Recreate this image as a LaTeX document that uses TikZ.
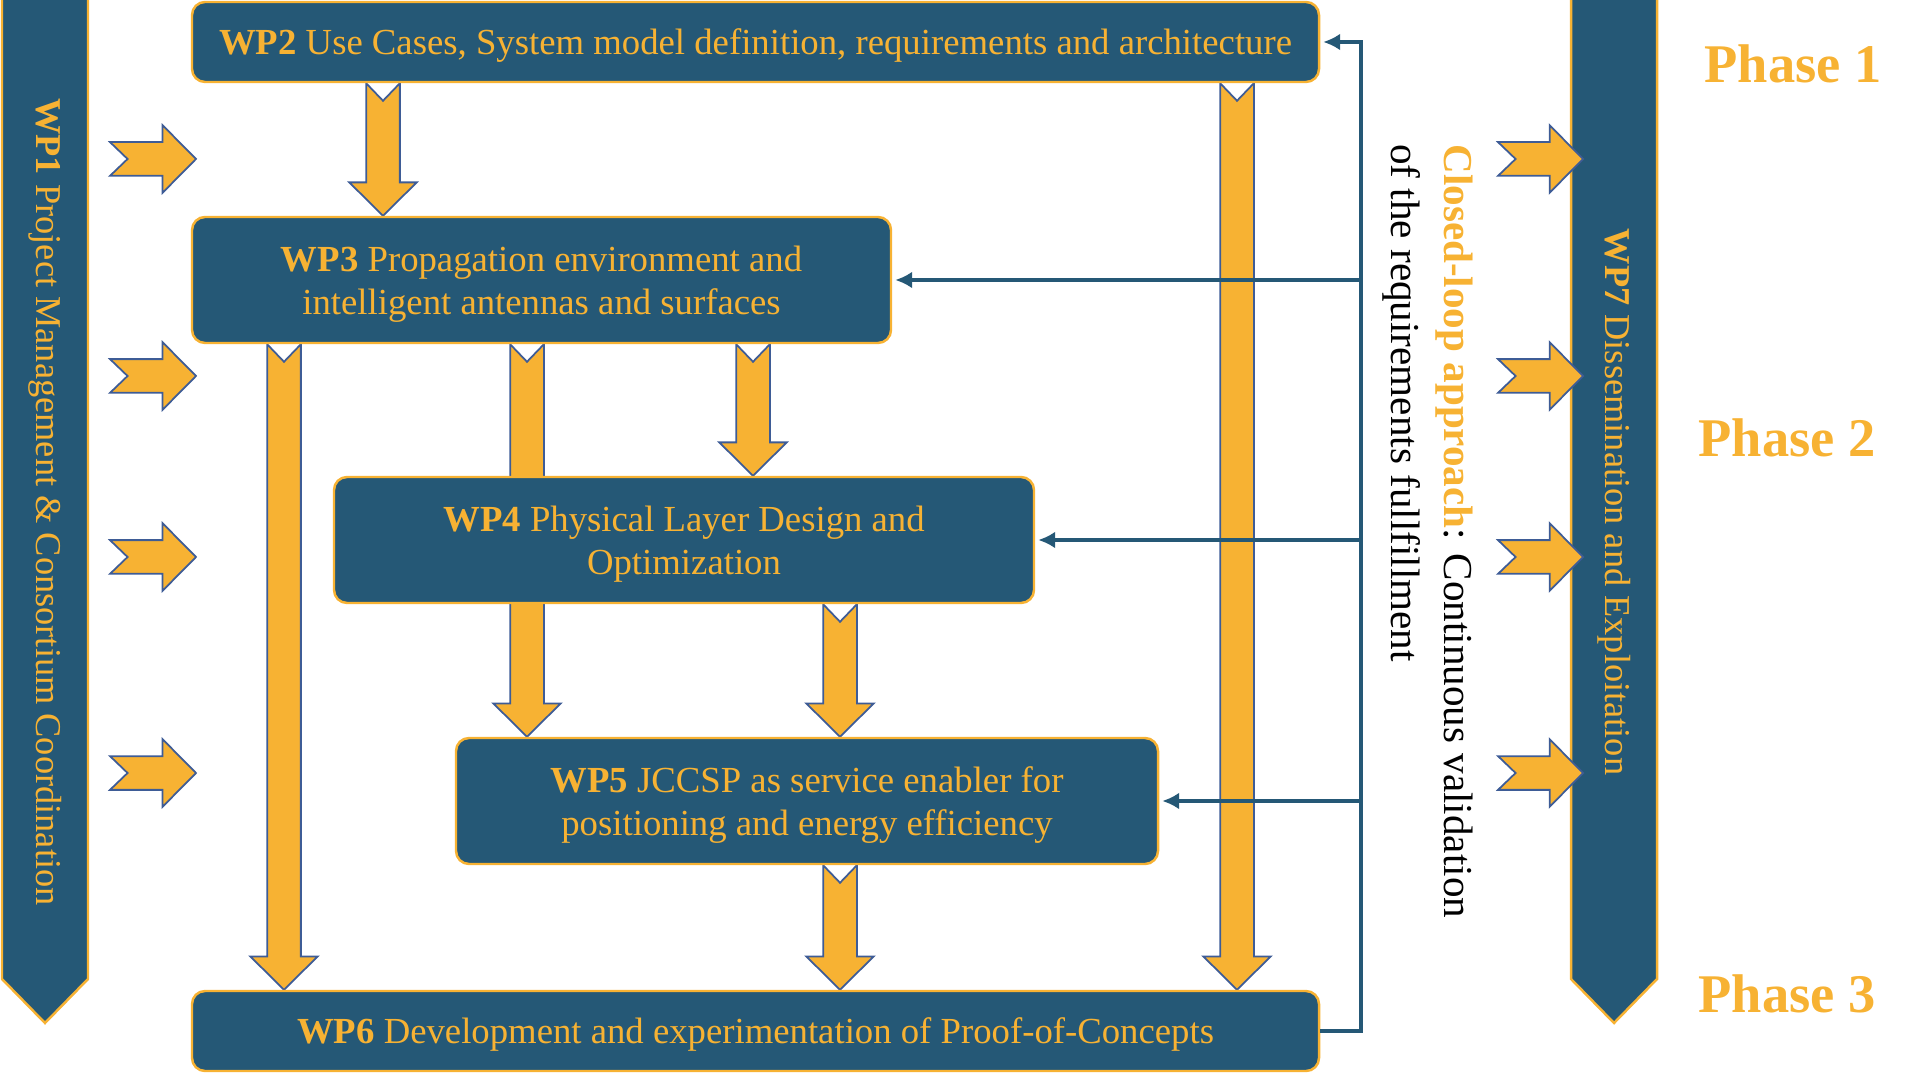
\documentclass[tikz,border=0pt]{standalone}
\usepackage{fontspec}
\setmainfont{Liberation Serif}
\usetikzlibrary{%
	arrows.meta,
	positioning,% wg. " of "
	backgrounds,
	calc
}
\definecolor{wpblue}{RGB}{37,88,118}
\definecolor{wpgold}{RGB}{247,178,51}
\definecolor{wpedge}{RGB}{62,92,150}
\tikzstyle{wpbox} = [rectangle, rounded corners=1.3mm, draw=wpgold, line width=0.7pt, fill=wpblue, text=wpgold, align=center, inner sep=0pt, text depth=0pt, font=\fontsize{10.45}{12.2}\selectfont]
\tikzstyle{wpbar} = [draw=wpgold, line width=0.7pt, fill=wpblue]
\tikzstyle{bartext} = [rotate=-90, text=wpgold, font=\fontsize{10.35}{12}\selectfont]
\tikzstyle{bigarrow} = [draw=wpedge, line width=0.5pt, fill=wpgold, line join=miter]
\tikzstyle{loopline} = [draw=wpblue, line width=1.1pt]
\tikzstyle{looparrow} = [loopline, -{Latex[length=4.8pt,width=4.8pt]}, shorten >=0.3mm]
\tikzstyle{phase} = [text=wpgold, font=\fontsize{15.5}{18}\selectfont\bfseries]
% fat arrow pointing down, notched tail
\newcommand{\fatdown}[2]{%
	\path[bigarrow] let \p1=(#1), \p2=(#2) in
	(\x1-4.8pt,\y1) -- (\x1,\y1-5pt) -- (\x1+4.8pt,\y1) -- (\x1+4.8pt,\y2+9.5pt)
	-- (\x1+9.6pt,\y2+9.5pt) -- (\x1,\y2) -- (\x1-9.6pt,\y2+9.5pt) -- (\x1-4.8pt,\y2+9.5pt) -- cycle;}
% fat arrow pointing right, notched tail
\newcommand{\fatright}[2]{%
	\path[bigarrow] let \p1=(#1), \p2=(#2) in
	(\x1,\y1+4.8pt) -- (\x2-9.5pt,\y1+4.8pt) -- (\x2-9.5pt,\y1+9.6pt) -- (\x2,\y1)
	-- (\x2-9.5pt,\y1-9.6pt) -- (\x2-9.5pt,\y1-4.8pt) -- (\x1,\y1-4.8pt) -- (\x1+5pt,\y1) -- cycle;}

\begin{document}
\begin{tikzpicture}[x=0.1mm,y=-0.1mm]
	\useasboundingbox (0,0) rectangle (1919,1074);
	
	% side bars
	\path[wpbar] (2,-5) -- (88,-5) -- (88,979) -- (45,1023) -- (2,979) -- cycle;
	\path[wpbar] (1571,-5) -- (1657,-5) -- (1657,979) -- (1614,1023) -- (1571,979) -- cycle;
	\node[bartext] (wp1) at (45,502) {\textbf{WP1} Project Management \& Consortium Coordination};
	\node[bartext] (wp7) at (1614,502) {\textbf{WP7} Dissemination and Exploitation};
	
	% work packages
	\node[wpbox, minimum width=112.7mm, minimum height=8mm] (wp2) at (755.5,42) {\textbf{WP2} Use Cases, System model definition, requirements and architecture};
	\node[wpbox, minimum width=69.9mm, minimum height=12.6mm] (wp3) at (541.5,280) {\textbf{WP3} Propagation environment and\\intelligent antennas and surfaces};
	\node[wpbox, minimum width=70mm, minimum height=12.6mm] (wp4) at (684,540) {\textbf{WP4} Physical Layer Design and\\Optimization};
	\node[wpbox, minimum width=70.2mm, minimum height=12.6mm] (wp5) at (807,801) {\textbf{WP5} JCCSP as service enabler for\\positioning and energy efficiency};
	\node[wpbox, minimum width=112.7mm, minimum height=8mm] (wp6) at (755.5,1031) {\textbf{WP6} Development and experimentation of Proof-of-Concepts};
	
	% columns of the fat arrows
	\foreach \name/\xpos in {c1/284, c2/383, c3/527, c4/753, c5/840, c6/1237}
	\coordinate (\name) at (\xpos,0);
	
	\begin{pgfonlayer}{background}
		\fatdown{wp2.south -| c2}{wp3.north -| c2}
		\fatdown{wp2.south -| c6}{wp6.north -| c6}
		\fatdown{wp3.south -| c1}{wp6.north -| c1}
		\fatdown{wp3.south -| c3}{wp5.north -| c3}
		\fatdown{wp3.south -| c4}{wp4.north -| c4}
		\fatdown{wp4.south -| c5}{wp5.north -| c5}
		\fatdown{wp5.south -| c5}{wp6.north -| c5}
	\end{pgfonlayer}
	
	% arrows from WP1 and into WP7
	\foreach \ypos in {159,376,557,773}{
		\fatright{110,\ypos}{196,\ypos}
		\fatright{1498,\ypos}{1583,\ypos}
	}
	
	% closed loop
	\coordinate (loop) at (1361,0);
	\draw[looparrow] (wp6.east) -- (loop |- wp6.east) -- (loop |- wp2.east) -- (wp2.east);
	\foreach \wp in {wp3,wp4,wp5}
	\draw[looparrow] (loop |- \wp.east) -- (\wp.east);
	\node[rotate=-90, anchor=west, align=left, font=\fontsize{11.7}{15}\selectfont] (note) at (1428,132) {\textcolor{wpgold}{\textbf{Closed-loop approach}}: Continuous validation\\of the requirements fullfillment};
	
	% phases
	\node[phase] (ph1) at (1793,64) {Phase 1};
	\node[phase] (ph2) at (1787,438) {Phase 2};
	\node[phase] (ph3) at (1787,994) {Phase 3};
	
\end{tikzpicture}
\end{document}
